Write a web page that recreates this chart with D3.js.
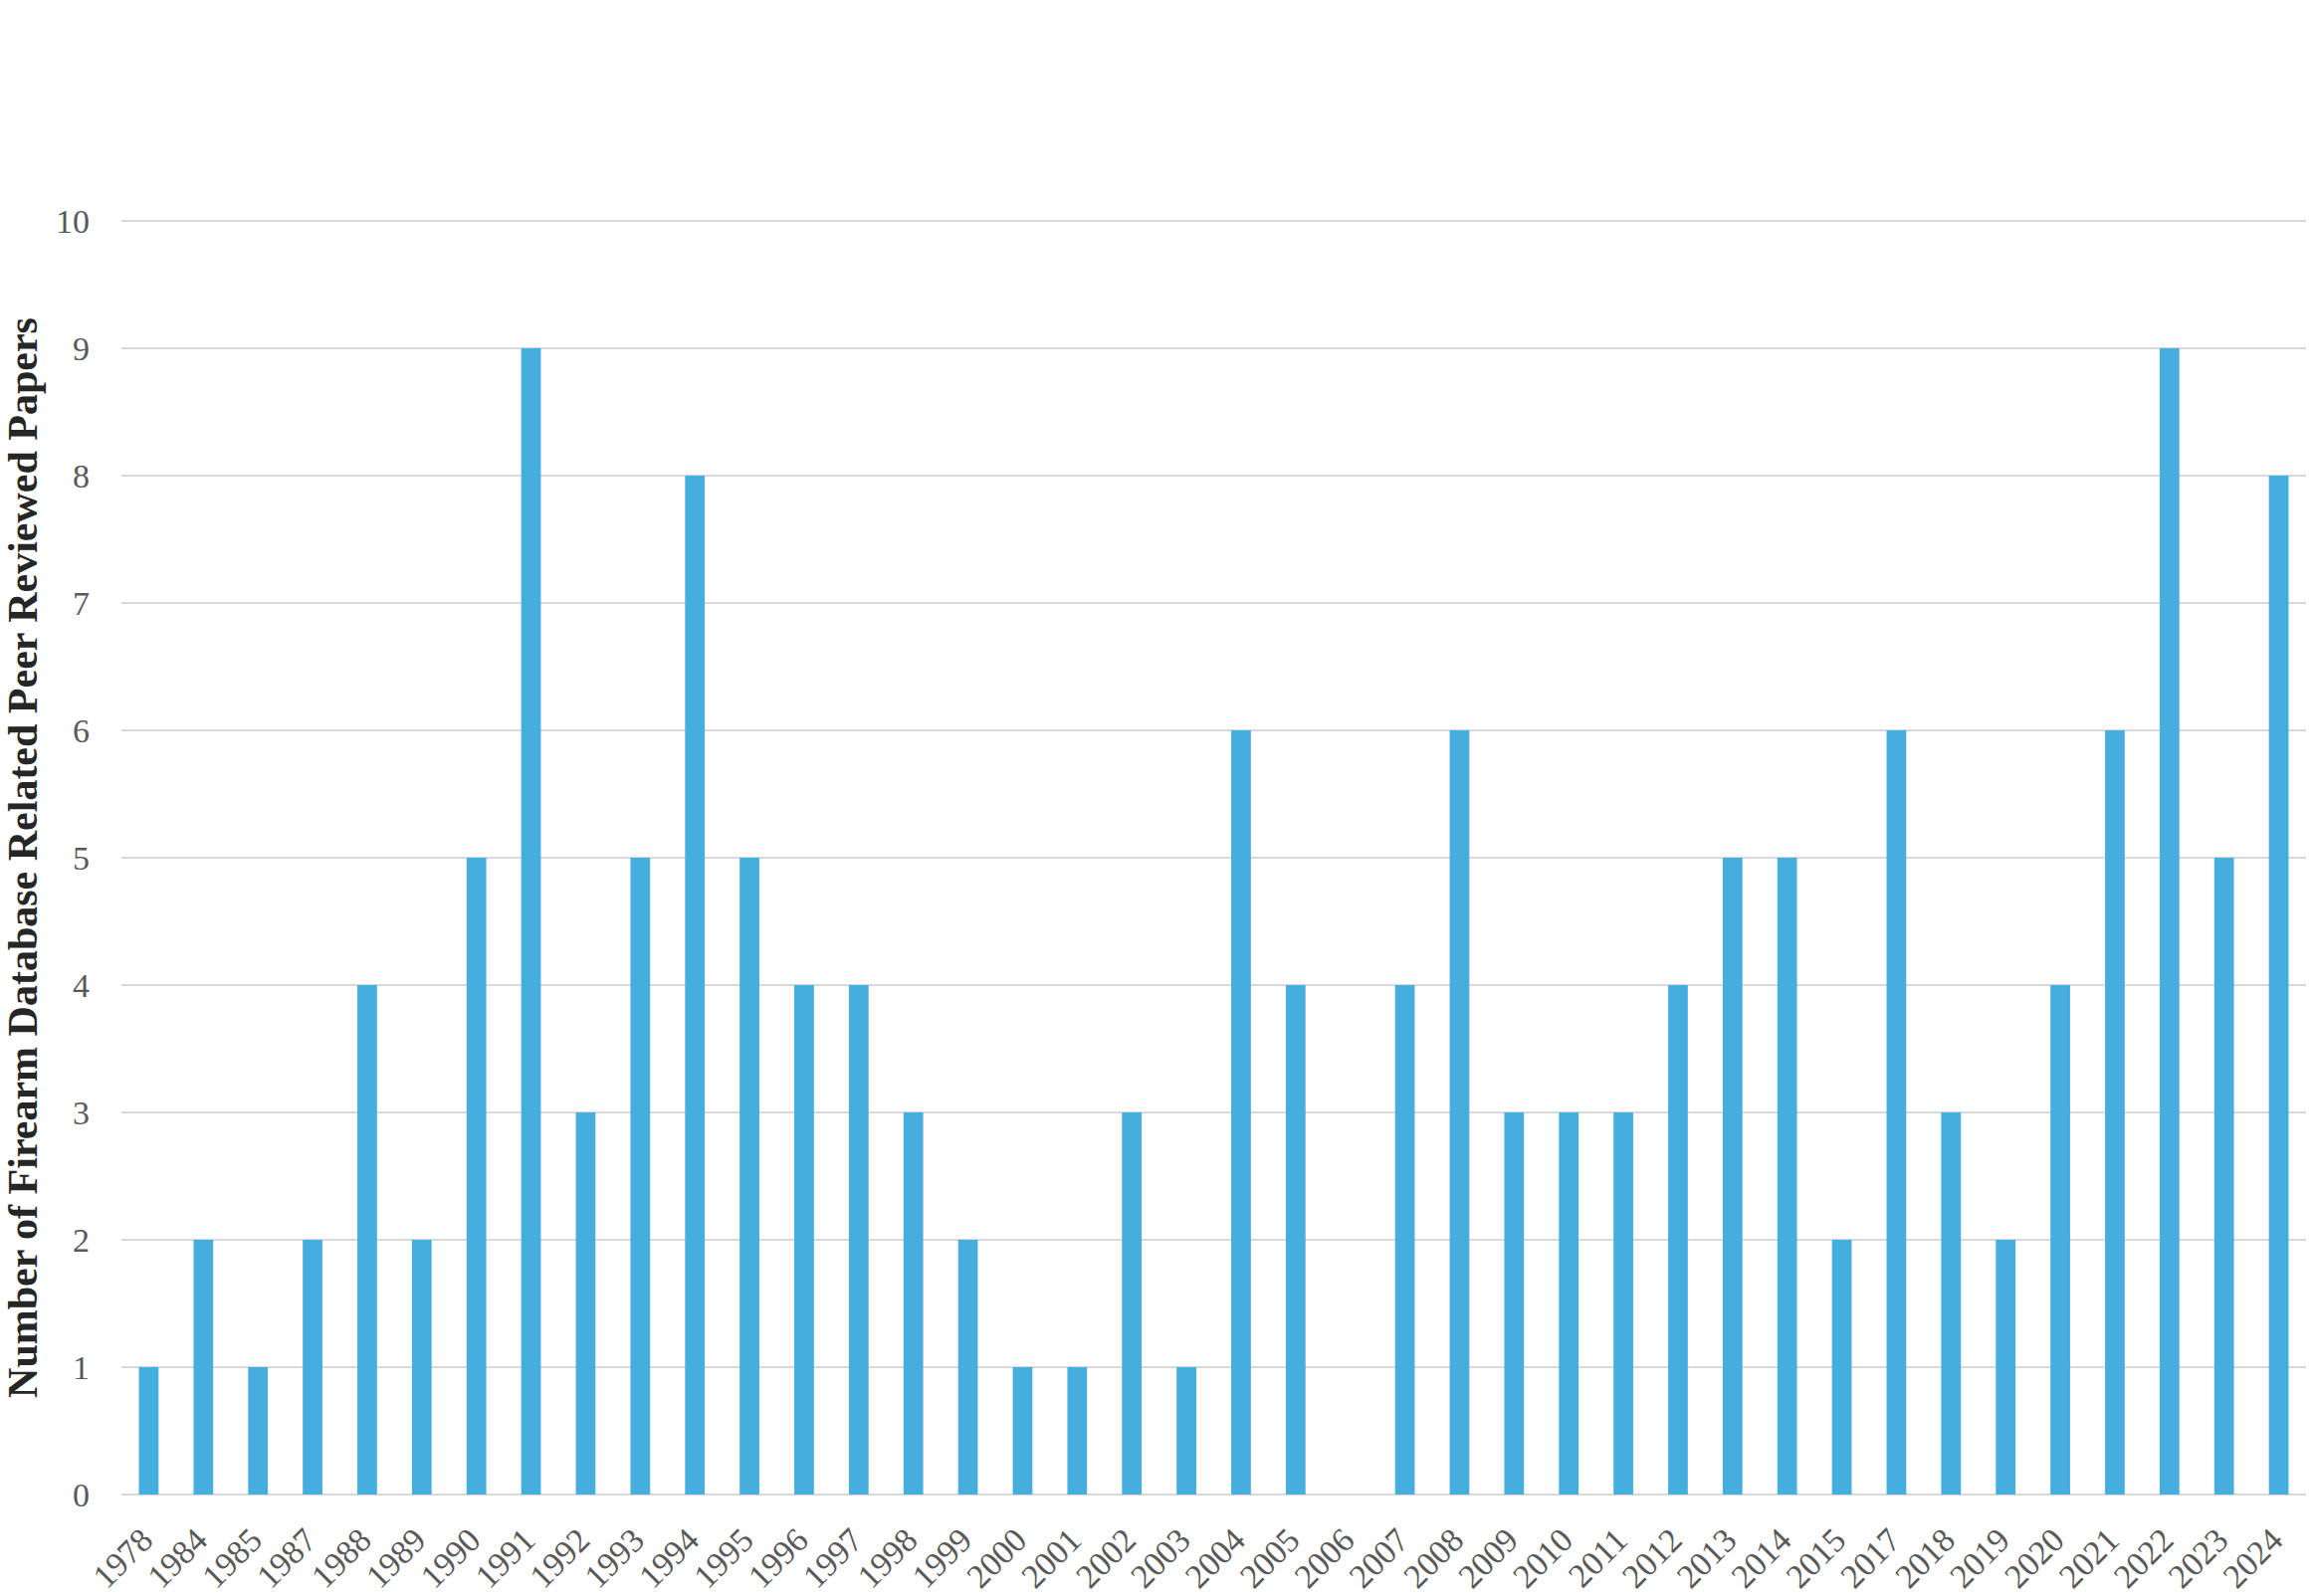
<!DOCTYPE html>
<html>
<head>
<meta charset="utf-8">
<script src="https://cdn.jsdelivr.net/npm/d3@7"></script>
<style>
  body { margin: 0; background: #fff; }
  svg { display: block; }
  .tickText { font-family: "Liberation Serif", "Times New Roman", serif; fill: #595959; }
</style>
</head>
<body>
<div id="chart"></div>
<script>
// data
let years = ['1978', '1984', '1985', '1987', '1988', '1989', '1990', '1991', '1992', '1993',
    '1994', '1995', '1996', '1997', '1998', '1999', '2000', '2001', '2002', '2003',
    '2004', '2005', '2006', '2007', '2008', '2009', '2010', '2011', '2012', '2013',
    '2014', '2015', '2017', '2018', '2019', '2020', '2021', '2022', '2023', '2024'];
let papers = [1, 2, 1, 2, 4, 2, 5, 9, 3, 5,
    8, 5, 4, 4, 3, 2, 1, 1, 3, 1,
    6, 4, 0, 4, 6, 3, 3, 3, 4, 5,
    5, 2, 6, 3, 2, 4, 6, 9, 5, 8];
let yTicks = [0, 1, 2, 3, 4, 5, 6, 7, 8, 9, 10];
let yTitle = 'Number of Firearm Database Related Peer Reviewed Papers';

// svg size
let svgWidth = 2326;
let svgHeight = 1604;

// plot area
let margin = { top: 222, right: 9, bottom: 102, left: 122 };
let width = svgWidth - margin.left - margin.right;
let height = svgHeight - margin.top - margin.bottom;

let svg = d3.select('#chart')
    .append('svg')
    .attr('width', svgWidth)
    .attr('height', svgHeight);

let chartGroup = svg.append('g')
    .attr('transform', `translate(${margin.left}, ${margin.top})`);

// scales
let xScale = d3.scaleBand()
    .domain(years)
    .range([0, width])
    .paddingInner(0.64)
    .paddingOuter(0.32);

let yScale = d3.scaleLinear()
    .domain([0, 10])
    .range([height, 0]);

// gridlines
chartGroup.append('g')
    .selectAll('line')
    .data(yTicks)
    .enter()
    .append('line')
    .attr('x1', 0)
    .attr('x2', width)
    .attr('y1', d => yScale(d))
    .attr('y2', d => yScale(d))
    .attr('stroke', '#d9d9d9')
    .attr('stroke-width', 2);

// y axis labels
let leftAxis = d3.axisLeft(yScale)
    .tickValues(yTicks)
    .tickSize(0)
    .tickPadding(32);

let yAxis = chartGroup.append('g')
    .call(leftAxis)
    .attr('font-family', null)
    .attr('font-size', null);
yAxis.select('.domain').remove();
yAxis.selectAll('text')
    .classed('tickText', true)
    .style('font-size', '34px')
    .attr('dy', '0.34em');

// bars
chartGroup.selectAll('rect.bar')
    .data(years)
    .enter()
    .append('rect')
    .classed('bar', true)
    .attr('x', d => xScale(d))
    .attr('width', xScale.bandwidth())
    .attr('y', (d, i) => yScale(papers[i]))
    .attr('height', (d, i) => height - yScale(papers[i]))
    .attr('fill', '#45aedf');

// x axis labels
let bottomAxis = d3.axisBottom(xScale)
    .tickSize(0)
    .tickPadding(0);

let xAxis = chartGroup.append('g')
    .attr('transform', `translate(0, ${height})`)
    .call(bottomAxis)
    .attr('font-family', null)
    .attr('font-size', null);
xAxis.select('.domain').remove();
xAxis.selectAll('text')
    .classed('tickText', true)
    .style('font-size', '34px')
    .attr('text-anchor', 'end')
    .attr('dy', 0)
    .attr('y', 0)
    .attr('transform', 'translate(6, 48) rotate(-45)');

// y axis title
svg.append('text')
    .attr('transform', `translate(37, ${margin.top + height / 2}) rotate(-90)`)
    .attr('text-anchor', 'middle')
    .style('font-family', '"Liberation Serif", "Times New Roman", serif')
    .style('font-weight', 'bold')
    .style('font-size', '42px')
    .attr('fill', '#262626')
    .text(yTitle);
</script>
</body>
</html>
